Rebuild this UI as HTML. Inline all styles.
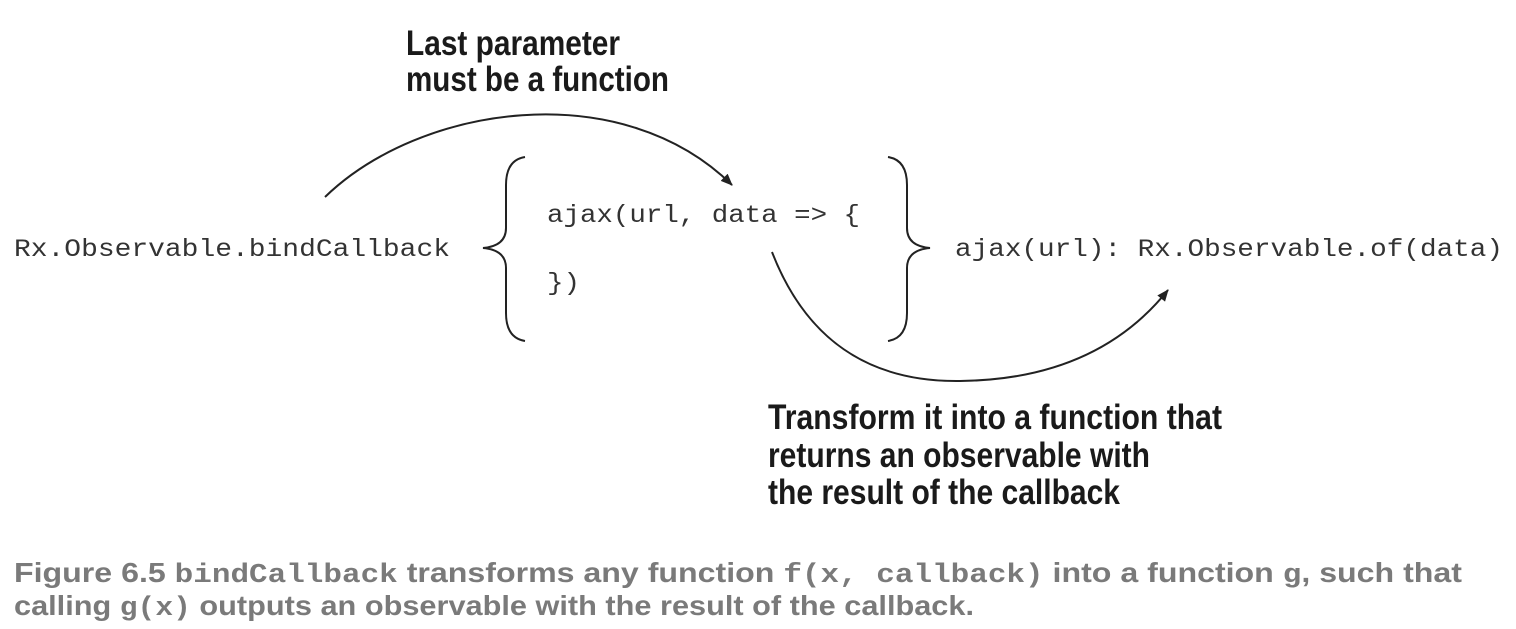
<!DOCTYPE html>
<html><head><meta charset="utf-8"><style>
html,body{margin:0;padding:0;background:#fff;}
svg{display:block}
.m{font-family:"Liberation Mono",monospace;font-size:25px;fill:#333}
.b{font-family:"Liberation Sans",sans-serif;font-weight:bold;font-size:35px;fill:#1a1a1a}
.c{font-family:"Liberation Sans",sans-serif;font-weight:bold;font-size:28px;fill:#7a7a7a}
.cm{font-family:"Liberation Mono",monospace;font-weight:bold;font-size:27px;fill:#7a7a7a}
</style></head><body>
<svg width="1516" height="629" viewBox="0 0 1516 629" xmlns="http://www.w3.org/2000/svg">
<defs><marker id="a" markerWidth="12" markerHeight="10" refX="11" refY="5" orient="auto" markerUnits="userSpaceOnUse"><path d="M0,0 L12,5 L0,10 z" fill="#222"/></marker></defs>
<text class="b" x="406" y="55" textLength="214" lengthAdjust="spacingAndGlyphs">Last parameter</text>
<text class="b" x="406" y="91" textLength="263" lengthAdjust="spacingAndGlyphs">must be a function</text>
<path d="M325,197 C420,105 620,75 732,185" fill="none" stroke="#222" stroke-width="2" marker-end="url(#a)"/>
<text class="m" x="14" y="256" textLength="436" lengthAdjust="spacingAndGlyphs">Rx.Observable.bindCallback</text>
<path d="M525,157 Q506,160 506,185 L506,228 Q506,246 483,248 Q506,250 506,268 L506,313 Q506,338 525,341" fill="none" stroke="#222" stroke-width="2"/>
<text class="m" x="547" y="222" textLength="313" lengthAdjust="spacingAndGlyphs">ajax(url, data =&gt; {</text>
<text class="m" x="547" y="290" textLength="33" lengthAdjust="spacingAndGlyphs">})</text>
<path d="M888,157 Q907,160 907,185 L907,228 Q907,246 930,248 Q907,250 907,268 L907,313 Q907,338 888,341" fill="none" stroke="#222" stroke-width="2"/>
<text class="m" x="955" y="256" textLength="548" lengthAdjust="spacingAndGlyphs">ajax(url): Rx.Observable.of(data)</text>
<path d="M772,252 C810,350 880,382 960,381 C1050,380 1120,350 1168,290" fill="none" stroke="#222" stroke-width="2" marker-end="url(#a)"/>
<text class="b" x="768" y="429" textLength="454" lengthAdjust="spacingAndGlyphs">Transform it into a function that</text>
<text class="b" x="768" y="467" textLength="382" lengthAdjust="spacingAndGlyphs">returns an observable with</text>
<text class="b" x="768" y="504" textLength="352" lengthAdjust="spacingAndGlyphs">the result of the callback</text>
<text x="14" y="582" textLength="1448" lengthAdjust="spacingAndGlyphs"><tspan class="c">Figure 6.5   </tspan><tspan class="cm">bindCallback</tspan><tspan class="c"> transforms any function </tspan><tspan class="cm">f(x, callback)</tspan><tspan class="c"> into a function </tspan><tspan class="cm">g</tspan><tspan class="c">, such that</tspan></text>
<text x="14" y="615" textLength="960" lengthAdjust="spacingAndGlyphs"><tspan class="c">calling </tspan><tspan class="cm">g(x)</tspan><tspan class="c"> outputs an observable with the result of the callback.</tspan></text>
</svg>
</body></html>
